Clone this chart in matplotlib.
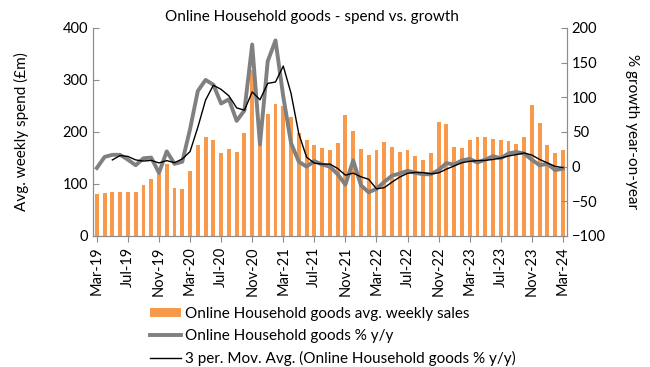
import numpy as np
import matplotlib
matplotlib.use("Agg")
import matplotlib.pyplot as plt
import pandas as pd
from matplotlib.patches import Patch
from matplotlib.lines import Line2D

plt.rcParams['font.family'] = ['Lato', 'DejaVu Sans']

months = pd.date_range("2019-03-01", "2024-03-01", freq="MS")
labels = [m.strftime("%b-%y") for m in months]

# avg. weekly spend, £m
spend = [81, 83, 85, 85, 85, 85, 98, 110, 119, 138, 93, 90,
         125, 175, 190, 185, 160, 168, 162, 197, 320, 186, 234, 254,
         249, 229, 197, 185, 175, 170, 165, 179, 233, 202, 167, 155,
         165, 180, 172, 162, 165, 153, 147, 160, 220, 215, 172, 170,
         185, 190, 190, 187, 185, 182, 177, 190, 252, 217, 175, 160,
         165]

# % growth y/y
growth = [-2, 14, 17, 17, 10, 2, 12, 13, -9, 22, 4, 7,
          54, 109, 125, 118, 91, 97, 66, 81, 176, 32, 152, 182,
          101, 34, 7, 0, 8, 3, 0, -11, -26, 9, -27, -37,
          -32, -22, -13, -10, -6, -9, -11, -11, -5, 5, 3, 9,
          11, 6, 10, 15, 12, 19, 21, 19, 10, 2, 4, -5,
          -3]

orange = '#F79A4C'
grey = '#808080'

mov_avg = pd.Series(growth).rolling(3).mean()

fig = plt.figure(figsize=(6.5, 3.67), dpi=100)
ax = fig.add_axes([0.143, 0.357, 0.729, 0.567])
ax2 = ax.twinx()

x = np.arange(len(spend))
ax.bar(x, spend, width=0.5, color=orange)
ax2.plot(x, growth, color=grey, linewidth=2.8)
ax2.plot(x, mov_avg, color='black', linewidth=1.0)

ax.set_xlim(-0.5, len(spend) - 0.5)
ax.set_ylim(0, 400)
ax.set_yticks(range(0, 401, 100))
ax2.set_ylim(-100, 200)
ax2.set_yticks(range(-100, 201, 50))

ax.set_xticks(x[::4])
ax.set_xticklabels(labels[::4], rotation=90, fontsize=10.5)

for a in (ax, ax2):
    a.spines['top'].set_visible(False)
    for s in ['left', 'right', 'bottom']:
        a.spines[s].set_color('#8c8c8c')
    a.tick_params(axis='y', direction='in', length=4, color='#8c8c8c', labelsize=10.5)
ax.tick_params(axis='x', direction='out', length=4, color='#8c8c8c')

ax.set_ylabel("Avg. weekly spend (£m)", fontsize=11, labelpad=24)
ax2.set_ylabel("% growth year-on-year", fontsize=11, rotation=270, labelpad=24)
fig.text(0.48, 0.955, "Online Household goods - spend vs. growth", ha='center', va='center', fontsize=11)

handles = [Patch(facecolor=orange),
           Line2D([], [], color=grey, linewidth=2.8),
           Line2D([], [], color='black', linewidth=1.0)]
names = ["Online Household goods avg. weekly sales",
         "Online Household goods % y/y",
         "3 per. Mov. Avg. (Online Household goods % y/y)"]
fig.legend(handles, names, loc='upper left', bbox_to_anchor=(0.231, 0.163), frameon=False,
           fontsize=11, handlelength=2.0, handleheight=0.55, handletextpad=0.3,
           labelspacing=0.5, borderpad=0, borderaxespad=0)

fig.savefig("out.png", dpi=100)
